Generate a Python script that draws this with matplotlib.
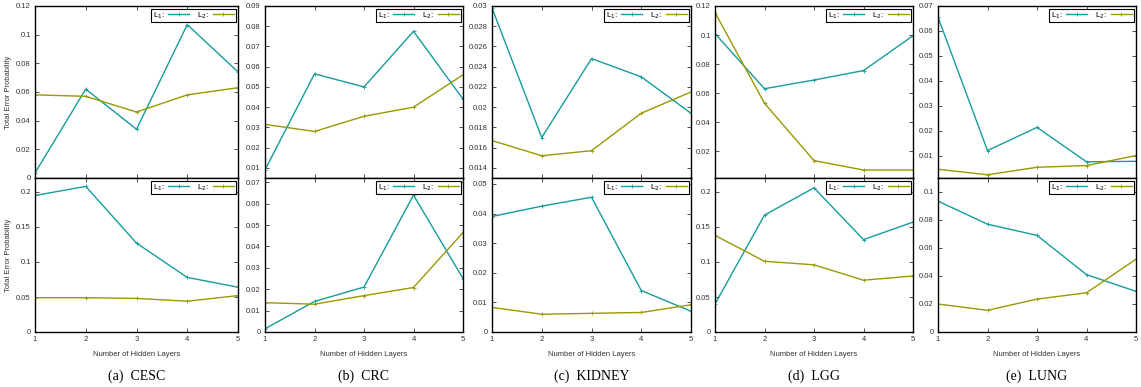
import numpy as np
import matplotlib.pyplot as plt

# hidden layers on the x axis
layers = [1, 2, 3, 4, 5]
captions = ["(a)  CESC", "(b)  CRC", "(c)  KIDNEY", "(d)  LGG", "(e)  LUNG"]

# top row
cesc_top_l1 = [0.0035, 0.062, 0.034, 0.107, 0.074]
cesc_top_l2 = [0.058, 0.057, 0.046, 0.058, 0.063]
crc_top_l1 = [0.009, 0.0565, 0.050, 0.0775, 0.044]
crc_top_l2 = [0.0315, 0.028, 0.0355, 0.040, 0.056]
kidney_top_l1 = [0.0298, 0.017, 0.0248, 0.0230, 0.0194]
kidney_top_l2 = [0.0167, 0.0152, 0.0157, 0.0194, 0.0215]
lgg_top_l1 = [0.101, 0.063, 0.069, 0.0755, 0.0995]
lgg_top_l2 = [0.1155, 0.053, 0.0135, 0.007, 0.007]
lung_top_l1 = [0.0655, 0.012, 0.0213, 0.0075, 0.0077]
lung_top_l2 = [0.0045, 0.0023, 0.0053, 0.006, 0.010]

# bottom row
cesc_bot_l1 = [0.195, 0.208, 0.127, 0.078, 0.064]
cesc_bot_l2 = [0.049, 0.049, 0.048, 0.044, 0.052]
crc_bot_l1 = [0.0015, 0.0143, 0.021, 0.064, 0.025]
crc_bot_l2 = [0.0137, 0.013, 0.017, 0.0208, 0.0465]
kidney_bot_l1 = [0.039, 0.0425, 0.0455, 0.014, 0.007]
kidney_bot_l2 = [0.0083, 0.006, 0.0063, 0.0066, 0.0092]
lgg_bot_l1 = [0.040, 0.167, 0.206, 0.132, 0.157]
lgg_bot_l2 = [0.138, 0.101, 0.096, 0.074, 0.080]
lung_bot_l1 = [0.0935, 0.077, 0.069, 0.041, 0.029]
lung_bot_l2 = [0.020, 0.0155, 0.0235, 0.028, 0.052]

top_l1 = [cesc_top_l1, crc_top_l1, kidney_top_l1, lgg_top_l1, lung_top_l1]
top_l2 = [cesc_top_l2, crc_top_l2, kidney_top_l2, lgg_top_l2, lung_top_l2]
bot_l1 = [cesc_bot_l1, crc_bot_l1, kidney_bot_l1, lgg_bot_l1, lung_bot_l1]
bot_l2 = [cesc_bot_l2, crc_bot_l2, kidney_bot_l2, lgg_bot_l2, lung_bot_l2]

top_ylim = [(0, 0.12), (0.005, 0.09), (0.013, 0.03), (0.0015, 0.12), (0.001, 0.07)]
top_ticks = [np.arange(0, 0.121, 0.02), np.arange(0.01, 0.091, 0.01),
             np.arange(0.014, 0.0301, 0.002), np.arange(0.02, 0.121, 0.02),
             np.arange(0.01, 0.071, 0.01)]
bot_ylim = [(0, 0.22), (0, 0.072), (0, 0.052), (0, 0.22), (0, 0.11)]
bot_ticks = [np.arange(0, 0.21, 0.05), np.arange(0, 0.071, 0.01),
             np.arange(0, 0.051, 0.01), np.arange(0, 0.21, 0.05),
             np.arange(0, 0.101, 0.02)]

C1 = "#169c9c"
C2 = "#999900"

W, H = 1141, 387
lefts = [35, 265, 492, 715, 938]
rights = [238, 463, 691, 913, 1136]

plt.rcParams['font.family'] = ['Liberation Sans', 'DejaVu Sans']
fig = plt.figure(figsize=(W / 100, H / 100), dpi=100)


def fmt(v):
    s = f"{v:.3f}".rstrip("0").rstrip(".")
    return s


def style(ax, ylim, ticks, show_x):
    ax.set_xlim(1, 5)
    ax.set_ylim(*ylim)
    ax.set_xticks(layers)
    ax.set_yticks(ticks)
    ax.set_yticklabels([fmt(t) for t in ticks])
    ax.tick_params(direction="in", top=True, right=True, labelsize=5.5,
                   length=3, width=0.6, pad=3, colors="#333333")
    if not show_x:
        ax.set_xticklabels([])
    for s in ax.spines.values():
        s.set_linewidth(1.0)
    leg = ax.legend(loc="upper right", ncol=2, fontsize=6, markerfirst=False,
                    handlelength=2.5, handletextpad=0.4, columnspacing=1.0,
                    borderpad=0.2, borderaxespad=0.3, fancybox=False,
                    framealpha=1)
    leg.get_frame().set_edgecolor("black")
    leg.get_frame().set_linewidth(0.8)


for i in range(5):
    x0 = lefts[i] / W
    w = (rights[i] - lefts[i]) / W
    ax_t = fig.add_axes([x0, (H - 178) / H, w, 172 / H])
    ax_b = fig.add_axes([x0, (H - 332) / H, w, 154 / H])

    for ax, l1, l2 in [(ax_t, top_l1[i], top_l2[i]), (ax_b, bot_l1[i], bot_l2[i])]:
        ax.plot(layers, l1, color=C1, lw=1.0, marker="+", ms=2.5, mew=0.6, label="L$_1$:")
        ax.plot(layers, l2, color=C2, lw=1.0, marker="+", ms=2.5, mew=0.6, label="L$_2$:")

    style(ax_t, top_ylim[i], top_ticks[i], False)
    style(ax_b, bot_ylim[i], bot_ticks[i], True)
    ax_b.set_xlabel("Number of Hidden Layers", fontsize=5.5, labelpad=6, color="#333333")

    if i == 0:
        ax_t.set_ylabel("Total Error Probability", fontsize=5.5, labelpad=3, color="#333333")
        ax_b.set_ylabel("Total Error Probability", fontsize=5.5, labelpad=3, color="#333333")

    fig.text((lefts[i] + rights[i]) / 2 / W, 1 - 376 / H, captions[i],
             ha="center", va="center", fontsize=10, family="Liberation Serif")

fig.savefig("out.png", dpi=100)
